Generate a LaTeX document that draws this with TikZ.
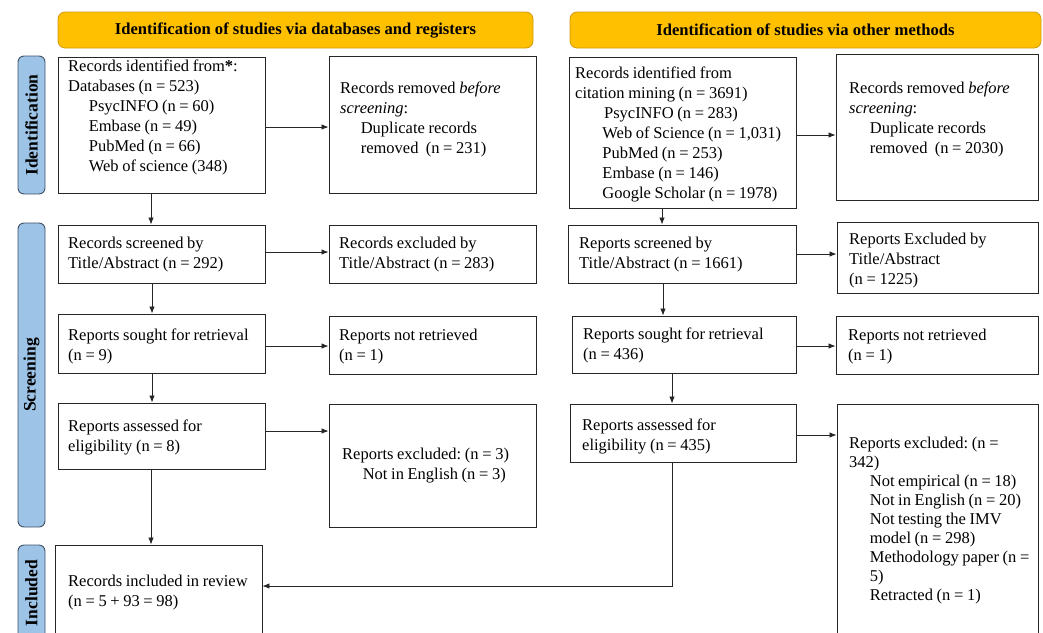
\documentclass[tikz,border=0pt]{standalone}
\usepackage{fontspec}
\setmainfont{Liberation Serif}
\usetikzlibrary{arrows.meta}
\definecolor{hdrfill}{HTML}{FFC000}
\definecolor{hdrdraw}{HTML}{D09A10}
\definecolor{sidefill}{HTML}{9DC3E6}
\definecolor{sidedraw}{HTML}{3F5168}
\newcommand{\ind}{\hspace*{1.25em}}
\newcommand{\bodyfont}{\fontsize{16.5}{20}\selectfont\frenchspacing\spaceskip=0.22em\relax}
\newcommand{\bodyfonttight}{\fontsize{16.5}{19}\selectfont\frenchspacing\spaceskip=0.22em\relax}
\tikzset{
  box/.style={draw=black!85, line width=0.9pt, inner sep=0pt},
  txt/.style={anchor=west, align=left, inner sep=0pt, font=\bodyfont},
  hdr/.style={draw=hdrdraw, fill=hdrfill, line width=0.8pt, rounded corners=7pt,
    font=\fontsize{16.6}{19}\selectfont\bfseries},
  side/.style={draw=sidedraw, fill=sidefill, line width=0.9pt, rounded corners=6pt},
  sidetext/.style={rotate=90, font=\fontsize{17.5}{19}\selectfont\bfseries},
  arr/.style={line width=0.8pt, draw=black!85, -{Latex[length=7pt,width=5.5pt]}}
}
\begin{document}
\begin{tikzpicture}[x=1pt,y=-1pt]
\useasboundingbox (0,0) rectangle (1043,632);
\clip (0,0) rectangle (1043,632);
% headers
\node[hdr, minimum width=475, minimum height=36] (h1) at (295.5,30) {Identification of studies via databases and registers};
\node[hdr, minimum width=471, minimum height=36] (h2) at (805.5,30) {Identification of studies via other methods};
% side bars
\node[side, minimum width=27, minimum height=138] (s1) at (31.5,125) {};
\node[sidetext] (s1t) at (s1.center) {Identification};
\node[side, minimum width=27, minimum height=304] (s2) at (31.5,375) {};
\node[sidetext] (s2t) at (s2.center) {Screening};
\node[side, minimum width=27, minimum height=96] (s3) at (31.5,593) {};
\node[sidetext] (s3t) at (s3.center) {Included};
% left column boxes
\node[box, minimum width=207, minimum height=136] (a1) at (161.5,125) {};
\node[box, minimum width=207, minimum height=137] (a2) at (432.5,124.5) {};
\node[box, minimum width=207, minimum height=58] (a3) at (161.5,254) {};
\node[box, minimum width=207, minimum height=58] (a4) at (432.5,254) {};
\node[box, minimum width=207, minimum height=59] (a5) at (161.5,343.5) {};
\node[box, minimum width=207, minimum height=58] (a6) at (432.5,345) {};
\node[box, minimum width=207, minimum height=66] (a7) at (161.5,436) {};
\node[box, minimum width=207, minimum height=123] (a8) at (432.5,465.5) {};
\node[box, minimum width=207, minimum height=95] (a9) at (158.5,592.5) {};
% right column boxes
\node[box, minimum width=227, minimum height=151] (b1) at (682.5,132.5) {};
\node[box, minimum width=202, minimum height=146] (b2) at (937,127) {};
\node[box, minimum width=228, minimum height=58] (b3) at (682,254) {};
\node[box, minimum width=201, minimum height=71] (b4) at (937.5,257.5) {};
\node[box, minimum width=224, minimum height=57] (b5) at (684,344.5) {};
\node[box, minimum width=202, minimum height=58] (b6) at (937,345) {};
\node[box, minimum width=226, minimum height=58] (b7) at (683,433) {};
\node[box, minimum width=201, minimum height=236] (b8) at (937.5,522) {};
% texts
\node[txt] (a1t) at (68,117)
 {Records identified from\textbf{*}:\\Databases (n = 523)\\\ind PsycINFO (n = 60)\\\ind Embase (n = 49)\\\ind PubMed (n = 66)\\\ind Web of science (348)};
\node[txt] (a2t) at (340,119)
 {Records removed \textit{before}\\\textit{screening}:\\\ind Duplicate records\\\ind removed\ \ (n = 231)};
\node[txt] (a3t) at (68,255) {Records screened by\\Title/Abstract (n = 292)};
\node[txt] (a4t) at (339,255) {Records excluded by\\Title/Abstract (n = 283)};
\node[txt] (a5t) at (68,346) {Reports sought for retrieval\\(n = 9)};
\node[txt] (a6t) at (339,347) {Reports not retrieved\\(n = 1)};
\node[txt] (a7t) at (68,437.5) {Reports assessed for\\eligibility (n = 8)};
\node[txt] (a8t) at (342,466) {Reports excluded: (n = 3)\\\ind Not in English (n = 3)};
\node[txt] (a9t) at (68,592.5) {Records included in review\\(n = 5 + 93 = 98)};
\node[txt] (b1t) at (575,134)
 {Records identified from\\citation mining (n = 3691)\\\hspace*{1.75em}PsycINFO (n = 283)\\\hspace*{1.65em}Web of Science (n = 1,031)\\\hspace*{1.65em}PubMed (n = 253)\\\hspace*{1.65em}Embase (n = 146)\\\hspace*{1.65em}Google Scholar (n = 1978)};
\node[txt] (b2t) at (849,119.5)
 {Records removed \textit{before}\\\textit{screening}:\\\ind Duplicate records\\\ind removed\ \ (n = 2030)};
\node[txt] (b3t) at (579,255) {Reports screened by\\Title/Abstract (n = 1661)};
\node[txt] (b4t) at (849,261) {Reports Excluded by\\Title/Abstract\\(n = 1225)};
\node[txt] (b5t) at (583,345) {Reports sought for retrieval\\(n = 436)};
\node[txt] (b6t) at (848,347) {Reports not retrieved\\(n = 1)};
\node[txt] (b7t) at (582,436) {Reports assessed for\\eligibility (n = 435)};
\node[txt, font=\bodyfonttight] (b8t) at (849,521)
 {Reports excluded: (n =\\342)\\\ind Not empirical (n = 18)\\\ind Not in English (n = 20)\\\ind Not testing the IMV\\\ind model (n = 298)\\\ind Methodology paper (n =\\\ind 5)\\\ind Retracted (n = 1)};
% horizontal arrows
\draw[arr] ([yshift=-2pt]a1.east) -- ([yshift=-2pt]a1.east -| a2.west);
\draw[arr] ([yshift=2pt]a3.east) -- ([yshift=2pt]a3.east -| a4.west);
\draw[arr] ([yshift=-2.5pt]a5.east) -- ([yshift=-2.5pt]a5.east -| a6.west);
\draw[arr] ([yshift=5pt]a7.east) -- ([yshift=5pt]a7.east -| a8.west);
\draw[arr] ([yshift=-2.5pt]b1.east) -- ([yshift=-2.5pt]b1.east -| b2.west);
\draw[arr] (b3.east) -- (b3.east -| b4.west);
\draw[arr] ([yshift=-1.5pt]b5.east) -- ([yshift=-1.5pt]b5.east -| b6.west);
\draw[arr] ([yshift=-2pt]b7.east) -- ([yshift=-2pt]b7.east -| b8.west);
% vertical arrows
\draw[arr] ([xshift=-10.5pt]a1.south) -- ([xshift=-10.5pt]a1.south |- a3.north);
\draw[arr] ([xshift=-9.5pt]a3.south) -- ([xshift=-9.5pt]a3.south |- a5.north);
\draw[arr] ([xshift=-9.5pt]a5.south) -- ([xshift=-9.5pt]a5.south |- a7.north);
\draw[arr] ([xshift=-10.5pt]a7.south) -- ([xshift=-10.5pt]a7.south |- a9.north);
\draw[arr] ([xshift=-20.5pt]b1.south) -- ([xshift=-20.5pt]b1.south |- b3.north);
\draw[arr] ([xshift=-19pt]b3.south) -- ([xshift=-19pt]b3.south |- b5.north);
\draw[arr] ([xshift=-12pt]b5.south) -- ([xshift=-12pt]b5.south |- b7.north);
\draw[arr] ([xshift=-11pt]b7.south) |- ([yshift=6.5pt]a9.east);
\end{tikzpicture}
\end{document}
